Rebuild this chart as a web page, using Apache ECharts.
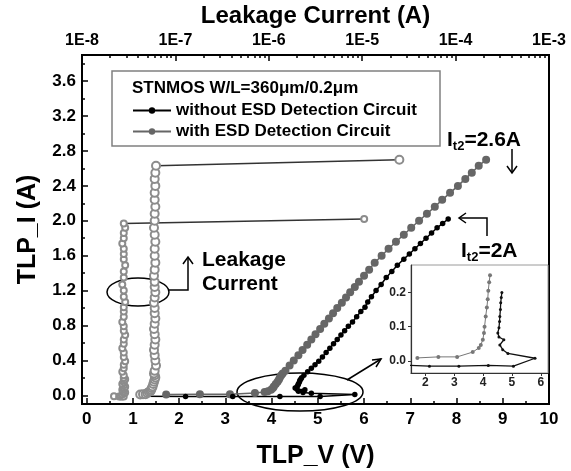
<!DOCTYPE html>
<html>
<head>
<meta charset="utf-8">
<title>STNMOS TLP I-V</title>
<script src="https://cdn.jsdelivr.net/npm/echarts@6/dist/echarts.min.js"></script>
<style>
  html, body { margin: 0; padding: 0; background: #fff; }
  #main { width: 571px; height: 471px; }
</style>
</head>
<body>
<div id="main"></div>
<script>
// TLP I-V curves, gray = with ESD detection circuit
var withV = [1.72, 2.45, 3.10, 3.64, 3.85, 3.92, 3.99, 4.03, 4.05, 4.09,
  4.13, 4.16, 4.18, 4.21, 4.24, 4.30, 4.39, 4.48, 4.58, 4.67,
  4.77, 4.86, 4.95, 5.05, 5.14, 5.24, 5.33, 5.42, 5.52, 5.61,
  5.70, 5.80, 5.89, 6.00, 6.11, 6.23, 6.38, 6.53, 6.69, 6.86,
  7.02, 7.19, 7.36, 7.53, 7.69, 7.86, 8.03, 8.19, 8.33, 8.48,
  8.64];
var withI = [0.009, 0.012, 0.012, 0.026, 0.038, 0.047, 0.062, 0.082, 0.10, 0.13,
  0.156, 0.18, 0.205, 0.23, 0.25, 0.28, 0.34, 0.40, 0.46, 0.52,
  0.58, 0.64, 0.70, 0.76, 0.82, 0.88, 0.94, 1.00, 1.06, 1.12,
  1.18, 1.24, 1.30, 1.37, 1.44, 1.52, 1.60, 1.68, 1.76, 1.84,
  1.92, 2.00, 2.08, 2.16, 2.24, 2.32, 2.40, 2.48, 2.55, 2.63,
  2.70];
// leakage after each pulse (A)
var withLeak = [4.2e-8, 4.5e-8, 4.8e-8, 5.0e-8, 5.2e-8, 5.4e-8, 5.5e-8, 5.6e-8, 5.7e-8, 5.8e-8,
  5.9e-8, 6.0e-8, 6.1e-8, 6.0e-8, 5.9e-8, 6.0e-8, 6.2e-8, 6.1e-8, 6.0e-8, 5.9e-8,
  6.0e-8, 6.1e-8, 6.0e-8, 5.9e-8, 6.0e-8, 6.1e-8, 6.0e-8, 6.0e-8, 5.9e-8, 6.0e-8,
  6.1e-8, 6.0e-8, 6.0e-8, 5.9e-8, 6.0e-8, 6.1e-8, 6.0e-8, 6.0e-8, 6.1e-8, 6.0e-8,
  5.9e-8, 6.0e-8, 6.0e-8, 6.1e-8, 6.0e-8, 6.0e-8, 6.1e-8, 6.0e-8, 6.1e-8, 6.2e-8,
  2.5e-5];

var withoutV = [1.19, 2.14, 3.16, 4.18, 5.05, 5.80, 4.86, 4.68, 4.58, 4.72,
  4.55, 4.51, 4.55, 4.57, 4.58, 4.60, 4.61, 4.63, 4.65, 4.70,
  4.78, 4.86, 4.94, 5.02, 5.10, 5.18, 5.26, 5.34, 5.42, 5.50,
  5.58, 5.66, 5.75, 5.84, 5.93, 6.02, 6.08, 6.16, 6.26, 6.37,
  6.48, 6.60, 6.72, 6.86, 6.98, 7.10, 7.22, 7.34, 7.46, 7.58,
  7.70, 7.82];
var withoutI = [-0.012, -0.015, -0.015, -0.013, -0.015, 0.008, 0.022, 0.033, 0.047, 0.062,
  0.070, 0.082, 0.097, 0.115, 0.13, 0.15, 0.17, 0.185, 0.20, 0.23,
  0.27, 0.31, 0.35, 0.39, 0.44, 0.49, 0.54, 0.59, 0.64, 0.69,
  0.74, 0.79, 0.84, 0.90, 0.96, 1.01, 1.07, 1.13, 1.20, 1.27,
  1.35, 1.42, 1.49, 1.56, 1.62, 1.68, 1.74, 1.80, 1.86, 1.92,
  1.97, 2.02];
var withoutLeak = [2.2e-8, 2.5e-8, 2.6e-8, 2.7e-8, 2.8e-8, 2.7e-8, 2.8e-8, 2.9e-8, 2.8e-8, 2.7e-8,
  2.8e-8, 2.8e-8, 2.9e-8, 2.8e-8, 2.7e-8, 2.8e-8, 2.8e-8, 2.9e-8, 2.8e-8, 2.8e-8,
  2.7e-8, 2.8e-8, 2.8e-8, 2.9e-8, 2.8e-8, 2.8e-8, 2.7e-8, 2.8e-8, 2.8e-8, 2.9e-8,
  2.8e-8, 2.8e-8, 2.7e-8, 2.8e-8, 2.8e-8, 2.8e-8, 2.9e-8, 2.8e-8, 2.8e-8, 2.7e-8,
  2.8e-8, 2.8e-8, 2.9e-8, 2.8e-8, 2.8e-8, 2.8e-8, 2.7e-8, 2.8e-8, 2.8e-8, 2.9e-8,
  2.8e-8, 1.05e-5];

var xTicks = [0, 1, 2, 3, 4, 5, 6, 7, 8, 9, 10];
var xMinor = [0.5, 1.5, 2.5, 3.5, 4.5, 5.5, 6.5, 7.5, 8.5, 9.5];
var yTicks = [0, 0.4, 0.8, 1.2, 1.6, 2.0, 2.4, 2.8, 3.2, 3.6];
var yMinor = [0.2, 0.6, 1.0, 1.4, 1.8, 2.2, 2.6, 3.0, 3.4, 3.8];
var insetXTicks = [2, 3, 4, 5, 6];
var insetYTicks = [0, 0.1, 0.2];

// log minor ticks of the top axis (2..9 in every decade), in log10 units
var leakMinor = [];
for (var d = -8; d < -3; d++) {
  for (var k = 2; k <= 9; k++) leakMinor.push(d + Math.log10(k));
}

var FONT = "'Liberation Sans', Arial, Helvetica, sans-serif";
var GRAY = '#666666';

function pairs(xs, ys) {
  return xs.map(function (x, i) { return [x, ys[i]]; });
}
function upTo(xs, ys, lim) {
  return pairs(xs, ys).filter(function (p) { return p[1] <= lim; });
}
function bold(size) {
  return 'bold ' + size + 'px ' + FONT;
}

var chart = echarts.init(document.getElementById('main'));

var tickLine = { color: '#000', width: 1.5 };
var noLine = { show: false, onZero: false };

var option = {
  animation: false,
  backgroundColor: '#fff',
  grid: [
    { left: 82, right: 22, top: 55, bottom: 67, containLabel: false, outerBoundsMode: 'none',
      show: true, borderColor: '#000', borderWidth: 2 },
    { left: 411, right: 23, top: 265, bottom: 98, containLabel: false, outerBoundsMode: 'none',
      show: true, borderColor: '#9a9a9a', borderWidth: 1, backgroundColor: '#fff' }
  ],
  legend: {
    orient: 'vertical',
    left: 132,
    top: 100,
    padding: 0,
    itemWidth: 38,
    itemHeight: 8,
    itemGap: 0,
    selectedMode: false,
    data: ['without ESD Detection Circuit', 'with ESD Detection Circuit'],
    textStyle: { fontFamily: FONT, fontWeight: 'bold', fontSize: 17, color: '#000', lineHeight: 21 }
  },
  xAxis: [
    {
      type: 'value', gridIndex: 0, position: 'bottom', min: -0.1, max: 10,
      name: 'TLP_V (V)', nameLocation: 'middle', nameGap: 40,
      nameTextStyle: { fontFamily: FONT, fontWeight: 'bold', fontSize: 25, color: '#000' },
      axisLine: { show: true, onZero: false, lineStyle: { color: '#000', width: 2 } },
      axisTick: { show: true, inside: true, length: 6, customValues: xTicks, lineStyle: tickLine },
      axisLabel: { customValues: xTicks, margin: 7, fontFamily: FONT, fontWeight: 'bold', fontSize: 17, color: '#000' },
      splitLine: { show: false }
    },
    {
      // minor ticks of TLP_V
      type: 'value', gridIndex: 0, position: 'bottom', min: -0.1, max: 10,
      axisLine: noLine,
      axisTick: { show: true, inside: true, length: 3, customValues: xMinor, lineStyle: tickLine },
      axisLabel: { show: false },
      splitLine: { show: false }
    },
    {
      type: 'log', logBase: 10, gridIndex: 0, position: 'top', min: 1e-8, max: 1e-3,
      name: 'Leakage Current (A)', nameLocation: 'middle', nameGap: 24,
      nameTextStyle: { fontFamily: FONT, fontWeight: 'bold', fontSize: 24, color: '#000' },
      axisLine: { show: true, onZero: false, lineStyle: { color: '#000', width: 2 } },
      axisTick: { show: true, inside: true, length: 6, lineStyle: tickLine },
      axisLabel: {
        margin: 6, fontFamily: FONT, fontWeight: 'bold', fontSize: 16, color: '#000',
        formatter: function (v) { return '1E' + Math.round(Math.log10(v)); }
      },
      minorTick: { show: false },
      splitLine: { show: false }
    },
    {
      // minor ticks of the leakage axis
      type: 'value', gridIndex: 0, position: 'top', min: -8, max: -3,
      axisLine: noLine,
      axisTick: { show: true, inside: true, length: 3, customValues: leakMinor, lineStyle: tickLine },
      axisLabel: { show: false },
      splitLine: { show: false }
    },
    {
      // inset
      type: 'value', gridIndex: 1, position: 'bottom', min: 1.5, max: 6.25,
      axisLine: { show: true, onZero: false, lineStyle: { color: '#333', width: 1.2 } },
      axisTick: { show: true, inside: false, length: 3, customValues: insetXTicks, lineStyle: { color: '#333', width: 1 } },
      axisLabel: { customValues: insetXTicks, margin: 4, fontFamily: FONT, fontWeight: 'bold', fontSize: 12, color: '#222' },
      splitLine: { show: false }
    }
  ],
  yAxis: [
    {
      type: 'value', gridIndex: 0, position: 'left', min: -0.1, max: 3.9,
      name: 'TLP_I (A)', nameLocation: 'middle', nameGap: 41, nameRotate: 90,
      nameTextStyle: { fontFamily: FONT, fontWeight: 'bold', fontSize: 25, color: '#000' },
      axisLine: { show: true, onZero: false, lineStyle: { color: '#000', width: 2 } },
      axisTick: { show: true, inside: true, length: 6, customValues: yTicks, lineStyle: tickLine },
      axisLabel: {
        customValues: yTicks, margin: 6, fontFamily: FONT, fontWeight: 'bold', fontSize: 17, color: '#000',
        formatter: function (v) { return v.toFixed(1); }
      },
      splitLine: { show: false }
    },
    {
      type: 'value', gridIndex: 0, position: 'left', min: -0.1, max: 3.9,
      axisLine: noLine,
      axisTick: { show: true, inside: true, length: 3, customValues: yMinor, lineStyle: tickLine },
      axisLabel: { show: false },
      splitLine: { show: false }
    },
    {
      type: 'value', gridIndex: 1, position: 'left', min: -0.035, max: 0.28,
      axisLine: { show: true, onZero: false, lineStyle: { color: '#333', width: 1.2 } },
      axisTick: { show: true, inside: false, length: 3, customValues: insetYTicks, lineStyle: { color: '#333', width: 1 } },
      axisLabel: {
        customValues: insetYTicks, margin: 5, fontFamily: FONT, fontWeight: 'bold', fontSize: 12, color: '#222',
        formatter: function (v) { return v.toFixed(1); }
      },
      splitLine: { show: false }
    }
  ],
  series: [
    {
      name: 'with ESD Detection Circuit', type: 'line', xAxisIndex: 0, yAxisIndex: 0,
      data: pairs(withV, withI),
      symbol: 'circle', symbolSize: 8, color: GRAY,
      itemStyle: { color: GRAY }, lineStyle: { color: GRAY, width: 1.5 }
    },
    {
      name: 'without ESD Detection Circuit', type: 'line', xAxisIndex: 0, yAxisIndex: 0,
      data: pairs(withoutV, withoutI),
      symbol: 'circle', symbolSize: 5.5, color: '#000',
      itemStyle: { color: '#000' }, lineStyle: { color: '#000', width: 1.5 }
    },
    {
      name: 'leakage with', type: 'line', xAxisIndex: 2, yAxisIndex: 0,
      data: pairs(withLeak, withI),
      symbol: 'emptyCircle', symbolSize: 8,
      itemStyle: { color: '#8c8c8c', borderWidth: 1 }, lineStyle: { color: '#333', width: 1.5 }
    },
    {
      name: 'leakage without', type: 'line', xAxisIndex: 2, yAxisIndex: 0,
      data: pairs(withoutLeak, withoutI),
      symbol: 'emptyCircle', symbolSize: 6,
      itemStyle: { color: '#8c8c8c', borderWidth: 1 }, lineStyle: { color: '#333', width: 1.5 }
    },
    {
      name: 'inset with', type: 'line', xAxisIndex: 4, yAxisIndex: 2,
      data: upTo(withV, withI, 0.25),
      symbol: 'circle', symbolSize: 4,
      itemStyle: { color: '#777' }, lineStyle: { color: '#777', width: 1 }
    },
    {
      name: 'inset without', type: 'line', xAxisIndex: 4, yAxisIndex: 2,
      data: upTo(withoutV, withoutI, 0.2),
      symbol: 'circle', symbolSize: 3,
      itemStyle: { color: '#111' }, lineStyle: { color: '#111', width: 1.3 }
    }
  ],
  graphic: [
    // legend frame and header
    { type: 'rect', shape: { x: 112, y: 71, width: 328, height: 75 },
      style: { fill: 'none', stroke: '#808080', lineWidth: 1.5 } },
    { type: 'text', x: 132, y: 88,
      style: { text: 'STNMOS W/L=360\u03bcm/0.2\u03bcm', font: bold(17), fill: '#000', verticalAlign: 'middle' } },

    // leakage columns callout
    { type: 'ellipse', shape: { cx: 138, cy: 292, rx: 31, ry: 14 },
      style: { fill: 'none', stroke: '#000', lineWidth: 1.5 } },
    { type: 'polyline', shape: { points: [[169, 290], [188, 290], [188, 257]] },
      style: { fill: 'none', stroke: '#000', lineWidth: 1.5 } },
    { type: 'polyline', shape: { points: [[183, 264], [188, 257], [193, 264]] },
      style: { fill: 'none', stroke: '#000', lineWidth: 1.5 } },
    { type: 'text', x: 202, y: 260,
      style: { text: 'Leakage', font: bold(21), fill: '#000', verticalAlign: 'middle' } },
    { type: 'text', x: 202, y: 284,
      style: { text: 'Current', font: bold(21), fill: '#000', verticalAlign: 'middle' } },

    // snapback region callout
    { type: 'ellipse', shape: { cx: 300, cy: 392, rx: 63, ry: 19 },
      style: { fill: 'none', stroke: '#000', lineWidth: 1.5 } },
    { type: 'polyline', shape: { points: [[347, 380], [381, 359]] },
      style: { fill: 'none', stroke: '#000', lineWidth: 1.5 } },
    { type: 'polyline', shape: { points: [[372, 360], [381, 359], [376, 367]] },
      style: { fill: 'none', stroke: '#000', lineWidth: 1.5 } },

    // It2 labels
    { type: 'text', x: 447, y: 140,
      style: {
        text: '{i|I}{s|t2}{i|=2.6A}', fill: '#000', verticalAlign: 'middle',
        rich: { i: { font: bold(21), lineHeight: 26 }, s: { font: bold(13), lineHeight: 13, verticalAlign: 'bottom' } }
      } },
    { type: 'polyline', shape: { points: [[512, 149], [512, 173]] },
      style: { fill: 'none', stroke: '#000', lineWidth: 1.5 } },
    { type: 'polyline', shape: { points: [[507, 166], [512, 173], [517, 166]] },
      style: { fill: 'none', stroke: '#000', lineWidth: 1.5 } },
    { type: 'text', x: 461, y: 251,
      style: {
        text: '{i|I}{s|t2}{i|=2A}', fill: '#000', verticalAlign: 'middle',
        rich: { i: { font: bold(21), lineHeight: 26 }, s: { font: bold(13), lineHeight: 13, verticalAlign: 'bottom' } }
      } },
    { type: 'polyline', shape: { points: [[487, 236], [487, 218], [459, 218]] },
      style: { fill: 'none', stroke: '#000', lineWidth: 1.5 } },
    { type: 'polyline', shape: { points: [[466, 213], [459, 218], [466, 223]] },
      style: { fill: 'none', stroke: '#000', lineWidth: 1.5 } }
  ]
};

chart.setOption(option);
</script>
</body>
</html>
